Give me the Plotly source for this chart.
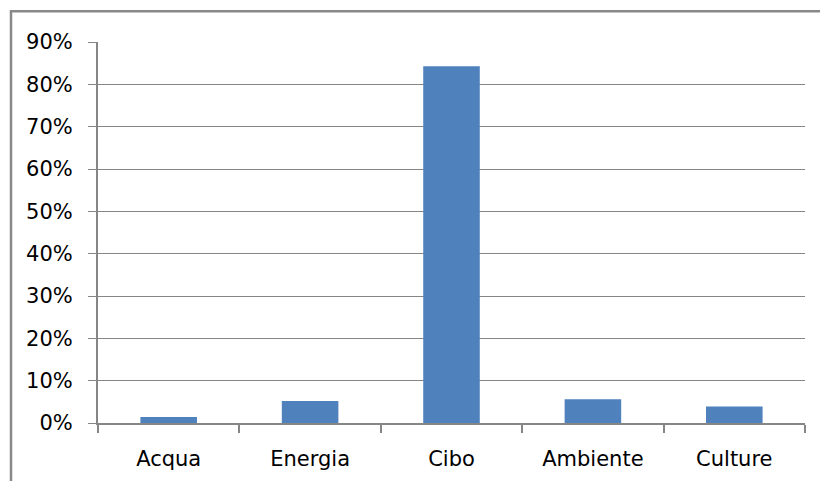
import plotly.graph_objects as go

categories = ["Acqua", "Energia", "Cibo", "Ambiente", "Culture"]
values = [0.014, 0.052, 0.843, 0.056, 0.039]
tick_vals = [i / 10 for i in range(10)]
tick_text = [f"{i*10}%" for i in range(10)]

W, H = 820, 481
L, R, T, B = 98, 805, 41.7, 423.3

def px(x):
    return (x - L) / (R - L)

def py(y):
    return (B - y) / (B - T)

fig = go.Figure(go.Bar(
    x=categories, y=values, marker_color="#4F81BD", marker_line_width=0,
    width=0.4,
))

fig.update_layout(
    width=W, height=H,
    margin=dict(l=L, r=W - R, t=T, b=H - B, pad=0),
    paper_bgcolor="white", plot_bgcolor="white",
    showlegend=False,
    font=dict(family="DejaVu Sans", size=21, color="#000000"),
    shapes=[dict(type="rect", xref="paper", yref="paper",
                 x0=px(11), x1=px(823), y0=py(484), y1=py(11),
                 line=dict(color="#898989", width=2.5), layer="below")],
)
fig.update_xaxes(
    automargin=False,
    showline=True, linecolor="#868686", linewidth=2,
    ticks="outside", ticklen=8, tickcolor="#868686", tickwidth=2,
    tickson="boundaries", showgrid=False, range=[-0.5, 4.5],
    ticklabelstandoff=16,
)
fig.update_yaxes(
    automargin=False,
    range=[0, 0.9], tickvals=tick_vals + [0.9], ticktext=tick_text + ["90%"],
    showline=True, linecolor="#868686", linewidth=2,
    ticks="outside", ticklen=8, tickcolor="#868686", tickwidth=1.3,
    showgrid=True, gridcolor="#868686", gridwidth=1.3,
    zeroline=False, ticklabelstandoff=11,
)

fig.write_html("out.html")
